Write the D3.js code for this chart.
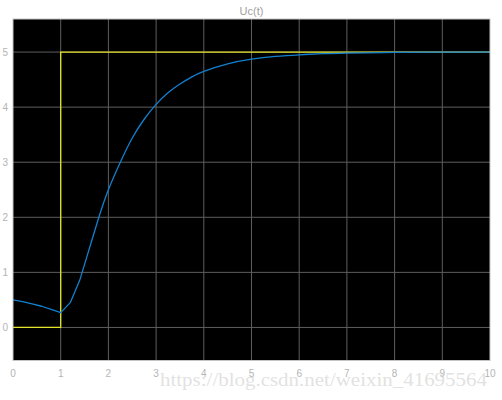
<!DOCTYPE html>
<html><head><meta charset="utf-8">
<script src="https://cdn.jsdelivr.net/npm/d3@7"></script>
<style>body{margin:0;background:#fff}svg{display:block}</style>
</head><body>
<svg id="c" width="502" height="400"></svg>
<script>
const title = "Uc(t)";
const xTicks = [0,1,2,3,4,5,6,7,8,9,10];
const yTicks = [0,1,2,3,4,5];
const stepT = [0, 1, 1, 10];
const stepV = [0, 0, 5, 5];
const respT = [0, 0.2, 0.4, 0.6, 0.8, 1.0, 1.2, 1.4, 1.6, 1.8, 2.0, 2.25, 2.5, 2.75, 3.0, 3.25, 3.5, 3.75, 4.0, 4.5, 5.0, 5.5, 6.0, 6.5, 7.0, 8.0, 9.0, 10.0];
const respV = [0.5, 0.47, 0.43, 0.385, 0.33, 0.27, 0.45, 0.86, 1.43, 2.0, 2.5, 3.0, 3.44, 3.78, 4.05, 4.26, 4.42, 4.55, 4.65, 4.785, 4.87, 4.92, 4.95, 4.97, 4.98, 4.993, 5.0, 5.0];
const watermark = "https://blog.csdn.net/weixin_41695564";

const svg = d3.select("#c");
const L = 13, R = 490, T = 19, B = 360.5;
const x = d3.scaleLinear().domain([0, 10]).range([L, R]);
const y = d3.scaleLinear().domain([-0.6, 5.6]).range([B, T]);

svg.append("rect").attr("x", L).attr("y", T).attr("width", R - L).attr("height", B - T).attr("fill", "#000");

const g = svg.append("g");
g.selectAll("line.gx").data(xTicks.slice(1, -1)).join("line")
  .attr("x1", d => x(d)).attr("x2", d => x(d)).attr("y1", T).attr("y2", B)
  .attr("stroke", "#5e5e5e").attr("stroke-width", 1);
g.selectAll("line.gy").data(yTicks).join("line")
  .attr("x1", L).attr("x2", R).attr("y1", d => y(d)).attr("y2", d => y(d))
  .attr("stroke", "#5e5e5e").attr("stroke-width", 1);

const lin = d3.line().x(d => x(d[0])).y(d => y(d[1]));
const smooth = d3.line().x(d => x(d[0])).y(d => y(d[1])).curve(d3.curveNatural);
svg.append("path").datum(stepT.map((t, i) => [t, stepV[i]])).attr("d", lin)
  .attr("fill", "none").attr("stroke", "#e3e32a").attr("stroke-width", 1.3);
const pts = respT.map((t, i) => [t, respV[i]]);
const k = respT.indexOf(1.4);
svg.append("path").datum(pts.slice(0, k + 1)).attr("d", lin)
  .attr("fill", "none").attr("stroke", "#1180d0").attr("stroke-width", 1.3).attr("stroke-linejoin", "round");
svg.append("path").datum(pts.slice(k)).attr("d", smooth)
  .attr("fill", "none").attr("stroke", "#1180d0").attr("stroke-width", 1.3);

svg.append("rect").attr("x", L).attr("y", T).attr("width", R - L).attr("height", B - T)
  .attr("fill", "none").attr("stroke", "#c4c4c4").attr("stroke-width", 1);

svg.selectAll("text.xt").data(xTicks).join("text")
  .attr("x", d => x(d)).attr("y", 377).attr("text-anchor", "middle")
  .attr("font-family", "Liberation Sans, Arial, sans-serif").attr("font-size", 10)
  .attr("fill", "#b4b4b4").text(d => d);
svg.selectAll("text.yt").data(yTicks).join("text")
  .attr("x", 8).attr("y", d => y(d) + 3.5).attr("text-anchor", "end")
  .attr("font-family", "Liberation Sans, Arial, sans-serif").attr("font-size", 10)
  .attr("fill", "#b4b4b4").text(d => d);

svg.append("text").attr("x", 251.5).attr("y", 14.5).attr("text-anchor", "middle")
  .attr("font-family", "Liberation Sans, Arial, sans-serif").attr("font-size", 11)
  .attr("fill", "#a0a0a0").text(title);

svg.append("text").attr("x", 160).attr("y", 386).attr("textLength", 327).attr("lengthAdjust", "spacingAndGlyphs")
  .attr("font-family", "Liberation Serif, DejaVu Serif, serif").attr("font-size", 18)
  .attr("fill", "#dadada").attr("fill-opacity", 0.8).text(watermark);
</script>
</body></html>
